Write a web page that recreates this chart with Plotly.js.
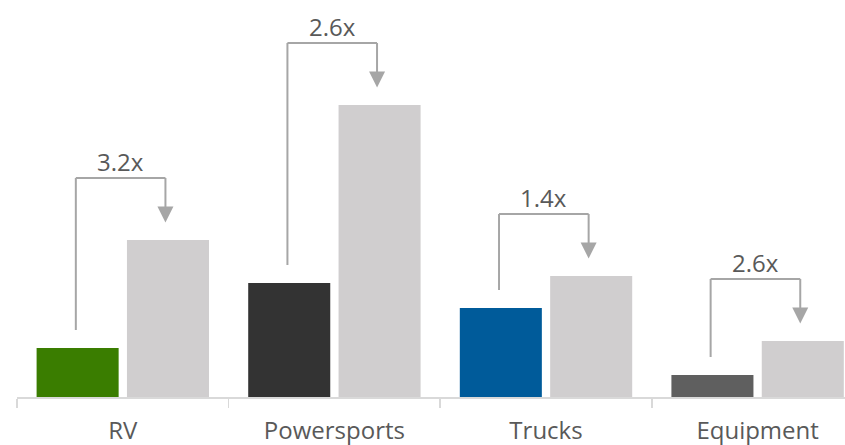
<!DOCTYPE html>
<html>
<head>
<meta charset="utf-8">
<script src="https://cdn.plot.ly/plotly-3.0.1.min.js"></script>
<style>html,body{margin:0;padding:0;background:#fff;}#chart{width:845px;height:445px;}</style>
</head>
<body>
<div id="chart"></div>
<script>
// Data
var categories = ["RV", "Powersports", "Trucks", "Equipment"];
var baseValues = [4.9, 11.4, 8.9, 2.2];
var grayValues = [15.7, 29.2, 12.1, 5.6];
var multiplierLabels = ["3.2x", "2.6x", "1.4x", "2.6x"];
var baseColors = ["#3a7d00", "#333333", "#005b9a", "#5f5f5f"];
var grayColor = "#d0cecf";

var bracketColor = "#a6a6a6";
var leftOff = -0.222, rightOff = 0.2015;
var leftGap = 1.8, rise = 6.2, tipGap = 1.75;

var traces = [
  {type: "bar", x: categories, y: baseValues, marker: {color: baseColors}, hoverinfo: "skip"},
  {type: "bar", x: categories, y: grayValues, marker: {color: grayColor}, hoverinfo: "skip"}
];

var shapes = [];
var annotations = [];
categories.forEach(function(c, i) {
  var top = grayValues[i] + rise;
  var xl = i + leftOff, xr = i + rightOff;
  var line = {color: bracketColor, width: 2};
  shapes.push({type: "line", xref: "x", yref: "y", x0: xl, x1: xl, y0: baseValues[i] + leftGap, y1: top, line: line});
  shapes.push({type: "line", xref: "x", yref: "y", x0: xl, x1: xr, y0: top, y1: top, line: line});
  shapes.push({type: "line", xref: "x", yref: "y", x0: xr, x1: xr, y0: top, y1: grayValues[i] + tipGap + 1.0, line: line});
  annotations.push({
    xref: "x", yref: "y", x: xr, y: grayValues[i] + tipGap,
    text: " ", showarrow: true, ax: 0, ay: -22,
    arrowhead: 2, arrowsize: 1.6, arrowwidth: 2, arrowcolor: bracketColor
  });
  annotations.push({
    xref: "x", yref: "y", x: (xl + xr) / 2, y: top,
    text: multiplierLabels[i], showarrow: false, yanchor: "bottom", yshift: -2,
    font: {family: "Open Sans", size: 24, color: "#595959"}
  });
});

var layout = {
  width: 845, height: 445,
  margin: {l: 17, r: 0, t: 0, b: 48},
  paper_bgcolor: "#fff", plot_bgcolor: "#fff",
  showlegend: false,
  barmode: "group", bargap: 0.146, bargroupgap: 0.092,
  font: {family: "Open Sans", color: "#595959"},
  xaxis: {
    type: "category", range: [-0.5, 3.413], fixedrange: true,
    showline: true, linecolor: "#d9d9d9", linewidth: 1.5,
    ticks: "outside", tickson: "boundaries", ticklen: 9, tickcolor: "#d9d9d9", tickwidth: 1.5,
    tickfont: {family: "Open Sans", size: 24, color: "#595959"},
    showgrid: false, zeroline: false, ticklabelstandoff: 12
  },
  yaxis: {range: [0, 39.7], visible: false, showgrid: false, zeroline: false, fixedrange: true},
  shapes: shapes,
  annotations: annotations
};

Plotly.newPlot("chart", traces, layout, {displayModeBar: false, staticPlot: true});
</script>
</body>
</html>
